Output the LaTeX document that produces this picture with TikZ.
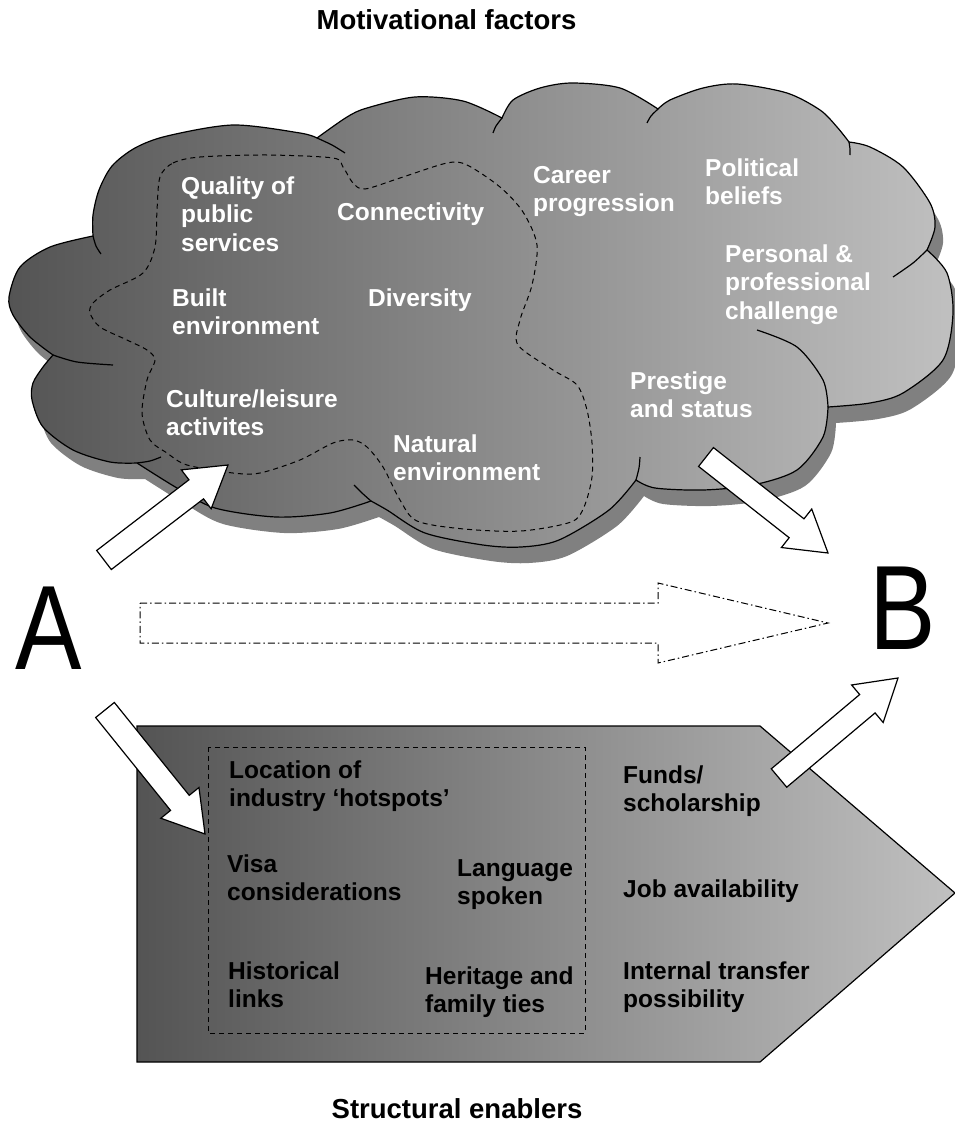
\documentclass[tikz,border=0pt]{standalone}
\usepackage{fontspec}
\usepackage{graphicx}
\setmainfont{Liberation Sans}
\usetikzlibrary{calc}
\definecolor{shadowgray}{RGB}{128,128,128}
\definecolor{darkL}{RGB}{84,84,84}
\definecolor{lightR}{RGB}{192,192,192}

\newcommand\cloudoutline{%
 plot[smooth] coordinates {(53,355) (30,337) (13,315) (9,297) (20,267) (50,247) (93,236)}
 -- plot[smooth] coordinates {(93,236) (93,215) (99,190) (112,166) (135,148) (167,136) (233,125) (300,133) (317,138)}
 -- plot[smooth] coordinates {(317,138) (347,117) (367,108) (415,97) (463,101) (502,118)}
 -- plot[smooth] coordinates {(502,118) (513,100) (540,88) (572,83) (620,88) (658,109)}
 -- plot[smooth] coordinates {(658,109) (670,100) (703,88) (737,84) (787,93) (820,110) (837,127) (849,142)}
 -- plot[smooth] coordinates {(849,142) (870,147) (903,167) (930,203) (935,227) (927,250)}
 -- plot[smooth] coordinates {(927,250) (947,273) (953,313) (943,360) (903,393) (870,403) (828,407)}
 -- plot[smooth] coordinates {(828,407) (823,437) (797,470) (753,485) (703,490) (655,488) (636,480)}
 -- plot[smooth] coordinates {(636,480) (609,510) (559,540) (521,547) (483,545) (425,533) (387,510) (371,501)}
 -- plot[smooth] coordinates {(371,501) (330,513) (276,517) (215,508) (177,488) (137,463)}
 -- plot[smooth] coordinates {(137,463) (110,462) (73,450) (43,427) (32,400) (33,383) (43,367) (53,355)}
 -- cycle}

\newcommand\blockarrow[2]{%
 \coordinate (#1b) at ($(#2)!40pt!(#1)$);
 \draw[whitearrow] ($(#1)!12pt!90:(#2)$) -- ($(#1b)!12pt!90:(#2)$) -- ($(#1b)!24.5pt!90:(#2)$)
   -- (#2) -- ($(#1b)!24.5pt!-90:(#2)$) -- ($(#1b)!12pt!-90:(#2)$) -- ($(#1)!12pt!-90:(#2)$) -- cycle;}

\begin{document}
\begin{tikzpicture}[x=1pt,y=-1pt,
  cloudline/.style={line width=1.2pt, black},
  whitearrow/.style={draw=black, fill=white, line width=1.2pt, line join=miter},
  cloudtxt/.style={font=\bfseries\fontsize{24.5}{28.5}\selectfont, text=white, align=left, anchor=base west, inner sep=0pt},
  pentxt/.style={font=\bfseries\fontsize{24.5}{28.5}\selectfont, text=black, align=left, anchor=base west, inner sep=0pt},
  titletxt/.style={font=\bfseries\fontsize{27.5}{30}\selectfont, anchor=base, inner sep=0pt},
  bigletter/.style={font=\fontsize{120}{120}\selectfont, anchor=base, inner sep=0pt},
  dashline/.style={line width=1pt, dash pattern=on 5pt off 4pt}]
\useasboundingbox (0,0) rectangle (955,1124);

% cloud shadow and body
\fill[shadowgray, shift={(8,16)}] \cloudoutline;
\draw[cloudline, left color=darkL, right color=lightR] \cloudoutline;

% inner arcs of the cloud
\draw[cloudline] plot[smooth] coordinates {(113,365) (77,362) (53,355)};
\draw[cloudline] plot[smooth] coordinates {(93,236) (96,246) (101,254)};
\draw[cloudline] plot[smooth] coordinates {(317,138) (332,145) (345,153)};
\draw[cloudline] plot[smooth] coordinates {(502,118) (496,126) (493,133)};
\draw[cloudline] plot[smooth] coordinates {(658,109) (651,116) (647,123)};
\draw[cloudline] plot[smooth] coordinates {(849,142) (850,149) (850,155)};
\draw[cloudline] plot[smooth] coordinates {(927,250) (913,263) (893,277)};
\draw[cloudline] plot[smooth] coordinates {(828,407) (823,380) (797,347) (757,330)};
\draw[cloudline] plot[smooth] coordinates {(636,480) (639,468) (640,457)};
\draw[cloudline] plot[smooth] coordinates {(371,501) (362,493) (354,485)};
\draw[cloudline] plot[smooth] coordinates {(137,463) (150,461) (161,457)};

% dashed region in the cloud
\draw[dashline] plot[smooth cycle, tension=0.5] coordinates {
 (160,177) (173,163) (200,157) (267,155) (333,158) (343,167) (353,183) (365,189)
 (400,178) (447,163) (467,165) (500,187) (523,212) (537,245) (532,285) (520,320)
 (518,345) (553,370) (577,385) (587,410) (592,443) (592,477) (584,507) (571,522)
 (521,531) (464,529) (417,521) (400,500) (383,467) (367,447) (353,440) (333,443)
 (300,460) (260,473) (233,473) (187,465) (167,453) (150,440) (142,413) (147,380)
 (155,360) (147,350) (127,340) (100,327) (90,313) (93,303) (110,290) (143,273)
 (155,247) (157,210)};

% cloud texts (anchor = baseline of the last line)
\node[cloudtxt] (quality) at (181,251) {Quality of\\public\\services};
\node[cloudtxt] (connect) at (337,220) {Connectivity};
\node[cloudtxt] (built) at (172,334.5) {Built\\environment};
\node[cloudtxt] (divers) at (368,306) {Diversity};
\node[cloudtxt] (culture) at (166,435.5) {Culture/leisure\\activites};
\node[cloudtxt] (natural) at (393,480.5) {Natural\\environment};
\node[cloudtxt] (career) at (533,211.5) {Career\\progression};
\node[cloudtxt] (polit) at (705,204.5) {Political\\beliefs};
\node[cloudtxt] (person) at (725,319) {Personal \&\\professional\\challenge};
\node[cloudtxt] (prest) at (630,417.5) {Prestige\\and status};

% pentagon
\draw[cloudline, left color=darkL, right color=lightR]
  (137,726) -- (760,726) -- (955,893) -- (760,1062) -- (137,1062) -- cycle;
\draw[dashline] (208,747) rectangle (585,1033);

\node[pentxt] (loc) at (229,806.5) {Location of\\industry ‘hotspots’};
\node[pentxt] (visa) at (227,900.5) {Visa\\considerations};
\node[pentxt] (lang) at (457,904.5) {Language\\spoken};
\node[pentxt] (hist) at (228,1007.5) {Historical\\links};
\node[pentxt] (herit) at (425,1012.5) {Heritage and\\family ties};
\node[pentxt] (funds) at (623,811.5) {Funds/\\scholarship};
\node[pentxt] (job) at (623,897) {Job availability};
\node[pentxt] (intern) at (623,1007.5) {Internal transfer\\possibility};

% A and B
\node[bigletter] (A) at (49,669) {\scalebox{0.83}[1]{A}};
\node[bigletter] (B) at (903,649) {\scalebox{0.83}[1]{B}};

% white block arrows
\coordinate (t1) at (104,560); \coordinate (p1) at (228,465);
\coordinate (t2) at (706,457); \coordinate (p2) at (828,553);
\coordinate (t3) at (105,710); \coordinate (p3) at (205,834);
\coordinate (t4) at (779,778); \coordinate (p4) at (898,678);
\blockarrow{t1}{p1}
\blockarrow{t2}{p2}
\blockarrow{t3}{p3}
\blockarrow{t4}{p4}

% dash-dot direct arrow
\draw[line width=1pt, dash pattern=on 7pt off 3pt on 1.5pt off 3pt]
  (140,603) -- (658,603) -- (658,583) -- (828,623) -- (658,663) -- (658,643) -- (140,643) -- cycle;

% titles
\node[titletxt] (mot) at (446.5,30) {Motivational factors};
\node[titletxt] (str) at (457,1118) {Structural enablers};
\end{tikzpicture}
\end{document}
